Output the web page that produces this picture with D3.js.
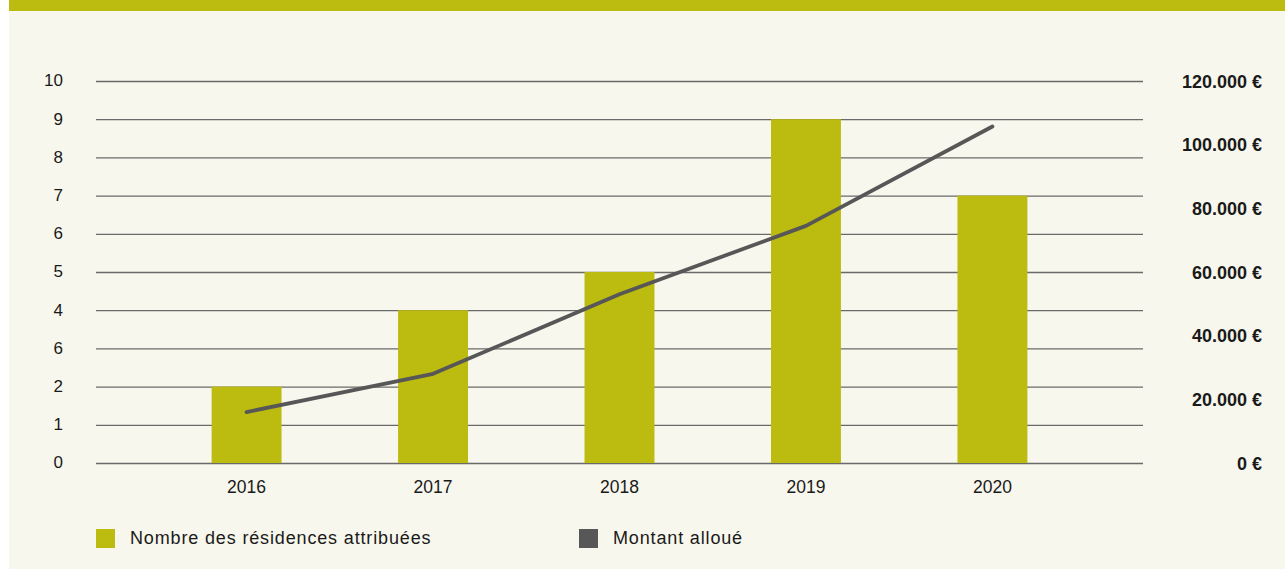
<!DOCTYPE html>
<html>
<head>
<meta charset="utf-8">
<script src="https://cdn.jsdelivr.net/npm/d3@7"></script>
<style>
  body { margin: 0; background: #ffffff; }
  svg { display: block; font-family: "Liberation Sans", Arial, sans-serif; }
</style>
</head>
<body>
<svg id="svg1" width="1285" height="569"></svg>
<script>
// data
var years = ['2016', '2017', '2018', '2019', '2020'];
var residences = [2, 4, 5, 9, 7];
var montants = [16000, 28000, 53000, 74500, 105700];
var leftTicks = [0, 1, 2, 3, 4, 5, 6, 7, 8, 9, 10];
var leftTickLabels = ['0', '1', '2', '6', '4', '5', '6', '7', '8', '9', '10'];  // as printed in the source
var rightTicks = [0, 20000, 40000, 60000, 80000, 100000, 120000];
var legendLabels = ['Nombre des résidences attribuées', 'Montant alloué'];

var width = 1285;
var height = 569;

var olive = '#bcbb0f';
var grey = '#575757';

var svg = d3.select('svg');

// panel + top band
svg.append('rect')
    .attr('x', 9).attr('y', 0)
    .attr('width', width - 9).attr('height', height)
    .attr('fill', '#f8f7ed');
svg.append('rect')
    .attr('x', 9).attr('y', 0)
    .attr('width', width - 9).attr('height', 11)
    .attr('fill', olive);

var x = d3.scaleBand()
    .domain(years)
    .range([96, 1143])
    .paddingInner(0.625)
    .paddingOuter(0.62);

var yLeft = d3.scaleLinear().domain([0, 10]).range([463, 81]);
var yRight = d3.scaleLinear().domain([0, 120000]).range([463, 81]);

// gridlines
svg.append('g')
    .selectAll('line')
    .data(leftTicks)
    .enter()
    .append('line')
    .attr('x1', 96).attr('x2', 1143)
    .attr('y1', function(d){ return yLeft(d) + 0.5; })
    .attr('y2', function(d){ return yLeft(d) + 0.5; })
    .attr('stroke', '#6a6a6a')
    .attr('stroke-width', 1.3);

// left axis labels
svg.append('g')
    .selectAll('text')
    .data(leftTicks)
    .enter()
    .append('text')
    .attr('x', 63)
    .attr('y', function(d){ return yLeft(d) + 1; })
    .attr('text-anchor', 'end')
    .attr('dominant-baseline', 'middle')
    .attr('font-size', 17)
    .attr('fill', '#1a1a1a')
    .text(function(d, i){ return leftTickLabels[i]; });

// right axis labels
var euro = function(v){
    return d3.format(',')(v).replace(/,/g, '.') + ' €';
};
svg.append('g')
    .selectAll('text')
    .data(rightTicks)
    .enter()
    .append('text')
    .attr('x', 1262)
    .attr('y', function(d){ return yRight(d) + 2; })
    .attr('text-anchor', 'end')
    .attr('dominant-baseline', 'middle')
    .attr('font-size', 18)
    .attr('font-weight', 'bold')
    .attr('fill', '#1a1a1a')
    .text(euro);

// bars
svg.append('g')
    .selectAll('rect')
    .data(residences)
    .enter()
    .append('rect')
    .attr('x', function(d, i){ return x(years[i]); })
    .attr('y', function(d){ return yLeft(d); })
    .attr('width', x.bandwidth())
    .attr('height', function(d){ return yLeft(0) - yLeft(d); })
    .attr('fill', olive);

// x labels
svg.append('g')
    .selectAll('text')
    .data(years)
    .enter()
    .append('text')
    .attr('x', function(d){ return x(d) + x.bandwidth() / 2; })
    .attr('y', 488)
    .attr('text-anchor', 'middle')
    .attr('dominant-baseline', 'middle')
    .attr('font-size', 17.5)
    .attr('fill', '#1a1a1a')
    .text(function(d){ return d; });

// line
var line = d3.line()
    .x(function(d, i){ return x(years[i]) + x.bandwidth() / 2; })
    .y(function(d){ return yRight(d); });

svg.append('path')
    .datum(montants)
    .attr('d', line)
    .attr('fill', 'none')
    .attr('stroke', grey)
    .attr('stroke-width', 3.8)
    .attr('stroke-linecap', 'round')
    .attr('stroke-linejoin', 'round');

// legend
var legendX = [96, 579];
var legendColors = [olive, grey];
var legend = svg.append('g')
    .selectAll('g')
    .data(legendLabels)
    .enter()
    .append('g')
    .attr('transform', function(d, i){ return 'translate(' + legendX[i] + ',529)'; });

legend.append('rect')
    .attr('width', 19).attr('height', 19)
    .attr('fill', function(d, i){ return legendColors[i]; });

legend.append('text')
    .attr('x', 34)
    .attr('y', 15)
    .attr('font-size', 18)
    .attr('letter-spacing', 0.85)
    .attr('fill', '#1a1a1a')
    .text(function(d){ return d; });
</script>
</body>
</html>
